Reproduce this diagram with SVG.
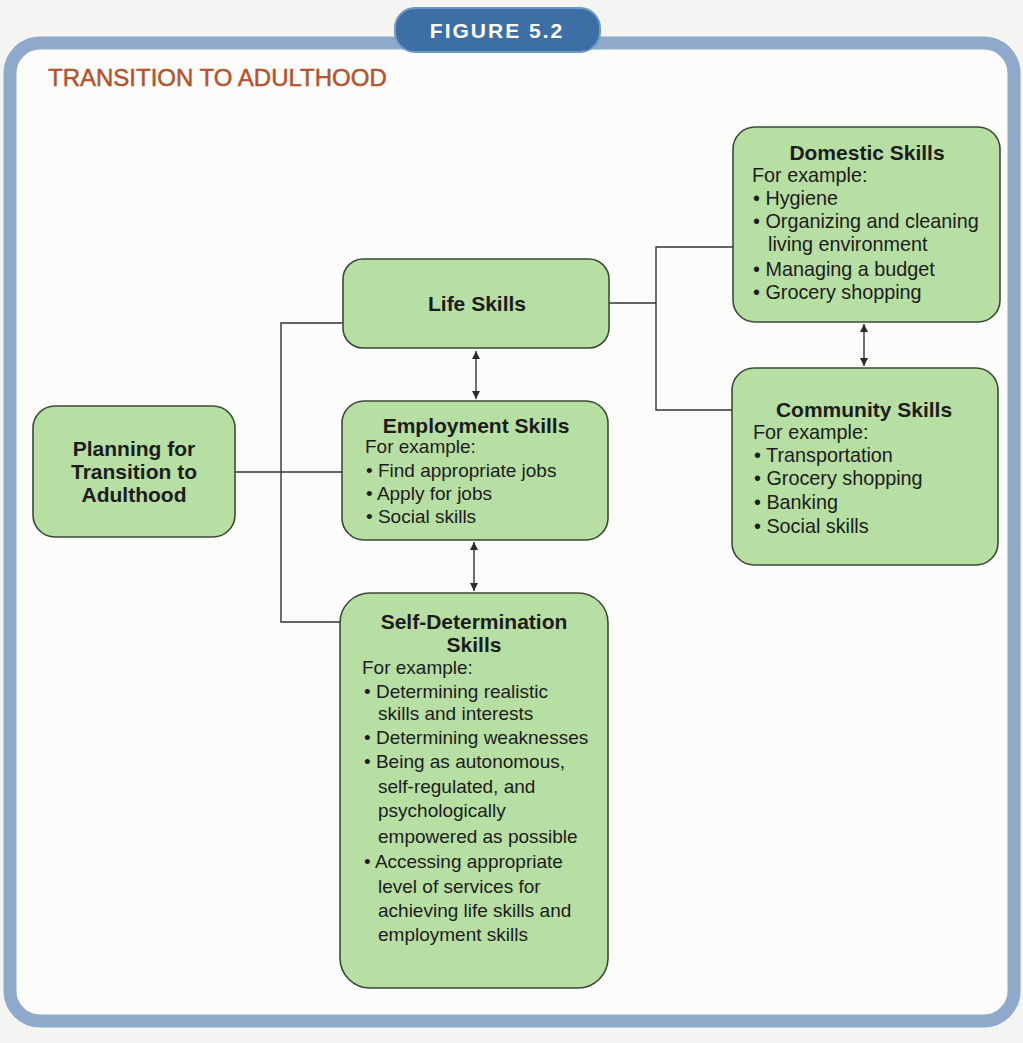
<svg xmlns="http://www.w3.org/2000/svg" width="1023" height="1043" viewBox="0 0 1023 1043">
<defs>
<marker id="ah" viewBox="0 0 10 10" refX="10" refY="5" markerWidth="8" markerHeight="9" markerUnits="userSpaceOnUse" orient="auto-start-reverse">
<path d="M0,0 L10,5 L0,10 z" fill="#2b2b2b"/>
</marker>
</defs>
<style>
.box{fill:#b7dea3;stroke:#3b4a38;stroke-width:1.6}
.t{font-family:"Liberation Sans",Arial,sans-serif;font-weight:bold;font-size:21px;fill:#1c1c1c;text-anchor:middle}
.b{font-family:"Liberation Sans",Arial,sans-serif;font-size:19px;fill:#1c1c1c}
.r{font-size:19.8px}
.ln{fill:none;stroke:#333;stroke-width:1.4}
.ar{fill:none;stroke:#333;stroke-width:1.4;marker-start:url(#ah);marker-end:url(#ah)}
</style>
<rect x="0" y="0" width="1023" height="1043" fill="#f4f4f2"/>
<rect x="10" y="43" width="1004" height="978" rx="30" fill="#fcfcfb" stroke="#8ea9ca" stroke-width="13"/>
<g id="tab">
<rect x="395" y="8" width="205" height="44" rx="20" fill="#3d6ea6" stroke="#6f98c6" stroke-width="2"/>
<text x="497" y="38" font-family="'Liberation Sans',Arial,sans-serif" font-weight="bold" font-size="21" fill="#ffffff" text-anchor="middle" letter-spacing="2">FIGURE 5.2</text>
</g>
<text x="48" y="86" font-family="'Liberation Sans',Arial,sans-serif" font-size="24" fill="#b4532c" stroke="#b4532c" stroke-width="0.5">TRANSITION TO ADULTHOOD</text>

<g id="connectors">
<polyline class="ln" points="343,323 281,323 281,622 340,622"/>
<line class="ln" x1="235" y1="472" x2="342" y2="472"/>
<polyline class="ln" points="609,303 656,303"/>
<polyline class="ln" points="733,247 656,247 656,410 732,410"/>
<line class="ar" x1="476" y1="351" x2="476" y2="399"/>
<line class="ar" x1="474" y1="542" x2="474" y2="591"/>
<line class="ar" x1="864" y1="324" x2="864" y2="366"/>
</g>

<g id="planning">
<rect class="box" x="33" y="406" width="202" height="131" rx="22"/>
<text class="t" x="134" y="456">Planning for</text>
<text class="t" x="134" y="479">Transition to</text>
<text class="t" x="134" y="502">Adulthood</text>
</g>

<g id="life">
<rect class="box" x="343" y="259" width="266" height="89" rx="20"/>
<text class="t" x="477" y="311">Life Skills</text>
</g>

<g id="employment">
<rect class="box" x="342" y="401" width="266" height="139" rx="22"/>
<text class="t" x="476" y="433">Employment Skills</text>
<text class="b" x="365" y="453">For example:</text>
<text class="b" x="366" y="477">• Find appropriate jobs</text>
<text class="b" x="366" y="500">• Apply for jobs</text>
<text class="b" x="366" y="523">• Social skills</text>
</g>

<g id="selfdetermination">
<rect class="box" x="340" y="593" width="268" height="395" rx="30"/>
<text class="t" x="474" y="629">Self-Determination</text>
<text class="t" x="474" y="652">Skills</text>
<text class="b" x="362" y="674">For example:</text>
<text class="b" x="364" y="698">• Determining realistic</text>
<text class="b" x="378" y="720">skills and interests</text>
<text class="b" x="364" y="744">• Determining weaknesses</text>
<text class="b" x="364" y="768">• Being as autonomous,</text>
<text class="b" x="378" y="793">self-regulated, and</text>
<text class="b" x="378" y="817">psychologically</text>
<text class="b" x="378" y="843">empowered as possible</text>
<text class="b" x="364" y="868">• Accessing appropriate</text>
<text class="b" x="378" y="893">level of services for</text>
<text class="b" x="378" y="917">achieving life skills and</text>
<text class="b" x="378" y="941">employment skills</text>
</g>

<g id="domestic">
<rect class="box" x="733" y="127" width="267" height="195" rx="22"/>
<text class="t" x="867" y="160">Domestic Skills</text>
<text class="b r" x="752" y="182">For example:</text>
<text class="b r" x="753" y="205">• Hygiene</text>
<text class="b r" x="753" y="228">• Organizing and cleaning</text>
<text class="b r" x="768" y="251">living environment</text>
<text class="b r" x="753" y="276">• Managing a budget</text>
<text class="b r" x="753" y="299">• Grocery shopping</text>
</g>

<g id="community">
<rect class="box" x="732" y="368" width="266" height="197" rx="22"/>
<text class="t" x="864" y="417">Community Skills</text>
<text class="b r" x="753" y="439">For example:</text>
<text class="b r" x="754" y="462">• Transportation</text>
<text class="b r" x="754" y="485">• Grocery shopping</text>
<text class="b r" x="754" y="509">• Banking</text>
<text class="b r" x="754" y="533">• Social skills</text>
</g>
</svg>
